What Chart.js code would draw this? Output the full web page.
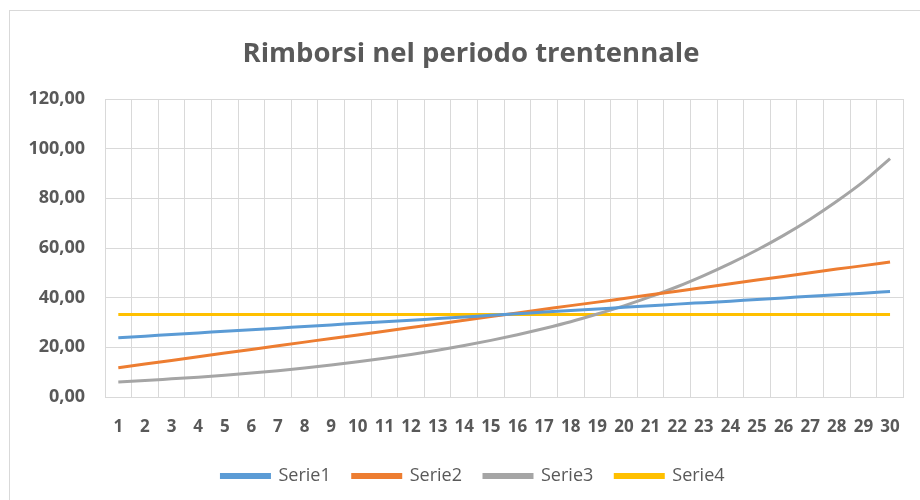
<!DOCTYPE html>
<html>
<head>
<meta charset="utf-8">
<script src="https://cdn.jsdelivr.net/npm/chart.js@4.4.1/dist/chart.umd.min.js"></script>
<style>
    body { margin: 0; background: #fff; }
    #wrap { position: relative; width: 920px; height: 500px; overflow: hidden; }
    #frame { position: absolute; left: 9px; top: 10px; width: 960px; height: 540px; border: 1px solid #d9d9d9; }
    #myChart { position: absolute; left: 0; top: 0; }
</style>
</head>
<body>
<div id="wrap">
    <div id="frame"></div>
    <canvas id="myChart" width="920" height="500"></canvas>
</div>
<script>
const years = ['1', '2', '3', '4', '5', '6', '7', '8', '9', '10',
    '11', '12', '13', '14', '15', '16', '17', '18', '19', '20',
    '21', '22', '23', '24', '25', '26', '27', '28', '29', '30'];

const serie1 = [23.9, 24.5, 25.2, 25.8, 26.5, 27.1, 27.7, 28.4, 29.0, 29.7,
    30.3, 30.9, 31.6, 32.2, 32.9, 33.5, 34.2, 34.8, 35.4, 36.1,
    36.7, 37.4, 38.0, 38.6, 39.3, 39.9, 40.6, 41.2, 41.8, 42.5];

const serie2 = [11.8, 13.3, 14.7, 16.2, 17.7, 19.1, 20.6, 22.1, 23.6, 25.0,
    26.5, 28.0, 29.4, 30.9, 32.4, 33.8, 35.3, 36.8, 38.2, 39.7,
    41.2, 42.6, 44.1, 45.6, 47.1, 48.5, 50.0, 51.5, 52.9, 54.4];

const serie3 = [6.0, 6.6, 7.3, 8.0, 8.8, 9.7, 10.6, 11.7, 12.9, 14.2,
    15.6, 17.1, 18.8, 20.7, 22.8, 25.1, 27.6, 30.3, 33.4, 36.7,
    40.4, 44.4, 48.9, 53.8, 59.2, 65.1, 71.6, 78.8, 86.7, 96.0];

const serie4 = [33.2, 33.2, 33.2, 33.2, 33.2, 33.2, 33.2, 33.2, 33.2, 33.2,
    33.2, 33.2, 33.2, 33.2, 33.2, 33.2, 33.2, 33.2, 33.2, 33.2,
    33.2, 33.2, 33.2, 33.2, 33.2, 33.2, 33.2, 33.2, 33.2, 33.2];

const seriesNames = ['Serie1', 'Serie2', 'Serie3', 'Serie4'];
const seriesColors = ['#5B9BD5', '#ED7D31', '#A5A5A5', '#FFC000'];

const textColor = '#595959';
const gridColor = '#d9d9d9';

function makeDataset(i, values) {
    return {
        label: seriesNames[i],
        data: values,
        borderColor: seriesColors[i],
        backgroundColor: seriesColors[i],
        borderWidth: 3,
        pointRadius: 0,
        cubicInterpolationMode: 'monotone'
    };
}

// Excel centres title and legend on the whole frame, not on canvas minus right padding
const shiftBoxes = {
    id: 'shiftBoxes',
    afterLayout(chart) {
        chart.titleBlock.left += 18;
        chart.titleBlock.right += 18;
        chart.legend.left += 20;
        chart.legend.right += 20;
    }
};

const ctx = document.getElementById('myChart').getContext('2d');

const myChart = new Chart(ctx, {
    type: 'line',
    data: {
        labels: years,
        datasets: [
            makeDataset(0, serie1),
            makeDataset(1, serie2),
            makeDataset(2, serie3),
            makeDataset(3, serie4)
        ]
    },
    plugins: [shiftBoxes],
    options: {
        responsive: false,
        animation: false,
        layout: {
            padding: { left: 0, right: 14, top: 0, bottom: 5 }
        },
        plugins: {
            title: {
                display: true,
                text: 'Rimborsi nel periodo trentennale',
                color: textColor,
                font: { family: 'Open Sans', size: 27.5, weight: 'bold' },
                padding: { top: 38, bottom: 28 }
            },
            legend: {
                position: 'bottom',
                labels: {
                    color: textColor,
                    font: { family: 'Open Sans', size: 18 },
                    boxWidth: 48,
                    boxHeight: 3,
                    padding: 22
                }
            },
            tooltip: { enabled: false }
        },
        scales: {
            x: {
                offset: true,
                grid: {
                    offset: true,
                    color: gridColor,
                    lineWidth: 1,
                    drawTicks: false
                },
                border: { color: gridColor },
                ticks: {
                    color: textColor,
                    font: { family: 'Open Sans', size: 17, weight: 'bold' },
                    padding: 20,
                    maxRotation: 0,
                    autoSkip: false
                },
                afterFit: function (scale) {
                    scale.height = 48;
                }
            },
            y: {
                min: 0,
                max: 120,
                grid: {
                    color: gridColor,
                    lineWidth: 1,
                    drawTicks: false
                },
                border: { color: gridColor },
                ticks: {
                    stepSize: 20,
                    color: textColor,
                    font: { family: 'Open Sans', size: 18, weight: 'bold' },
                    padding: 20,
                    callback: function (value) {
                        return value.toFixed(2).replace('.', ',');
                    }
                },
                afterFit: function (scale) {
                    scale.width = 105;
                }
            }
        }
    }
});
</script>
</body>
</html>
